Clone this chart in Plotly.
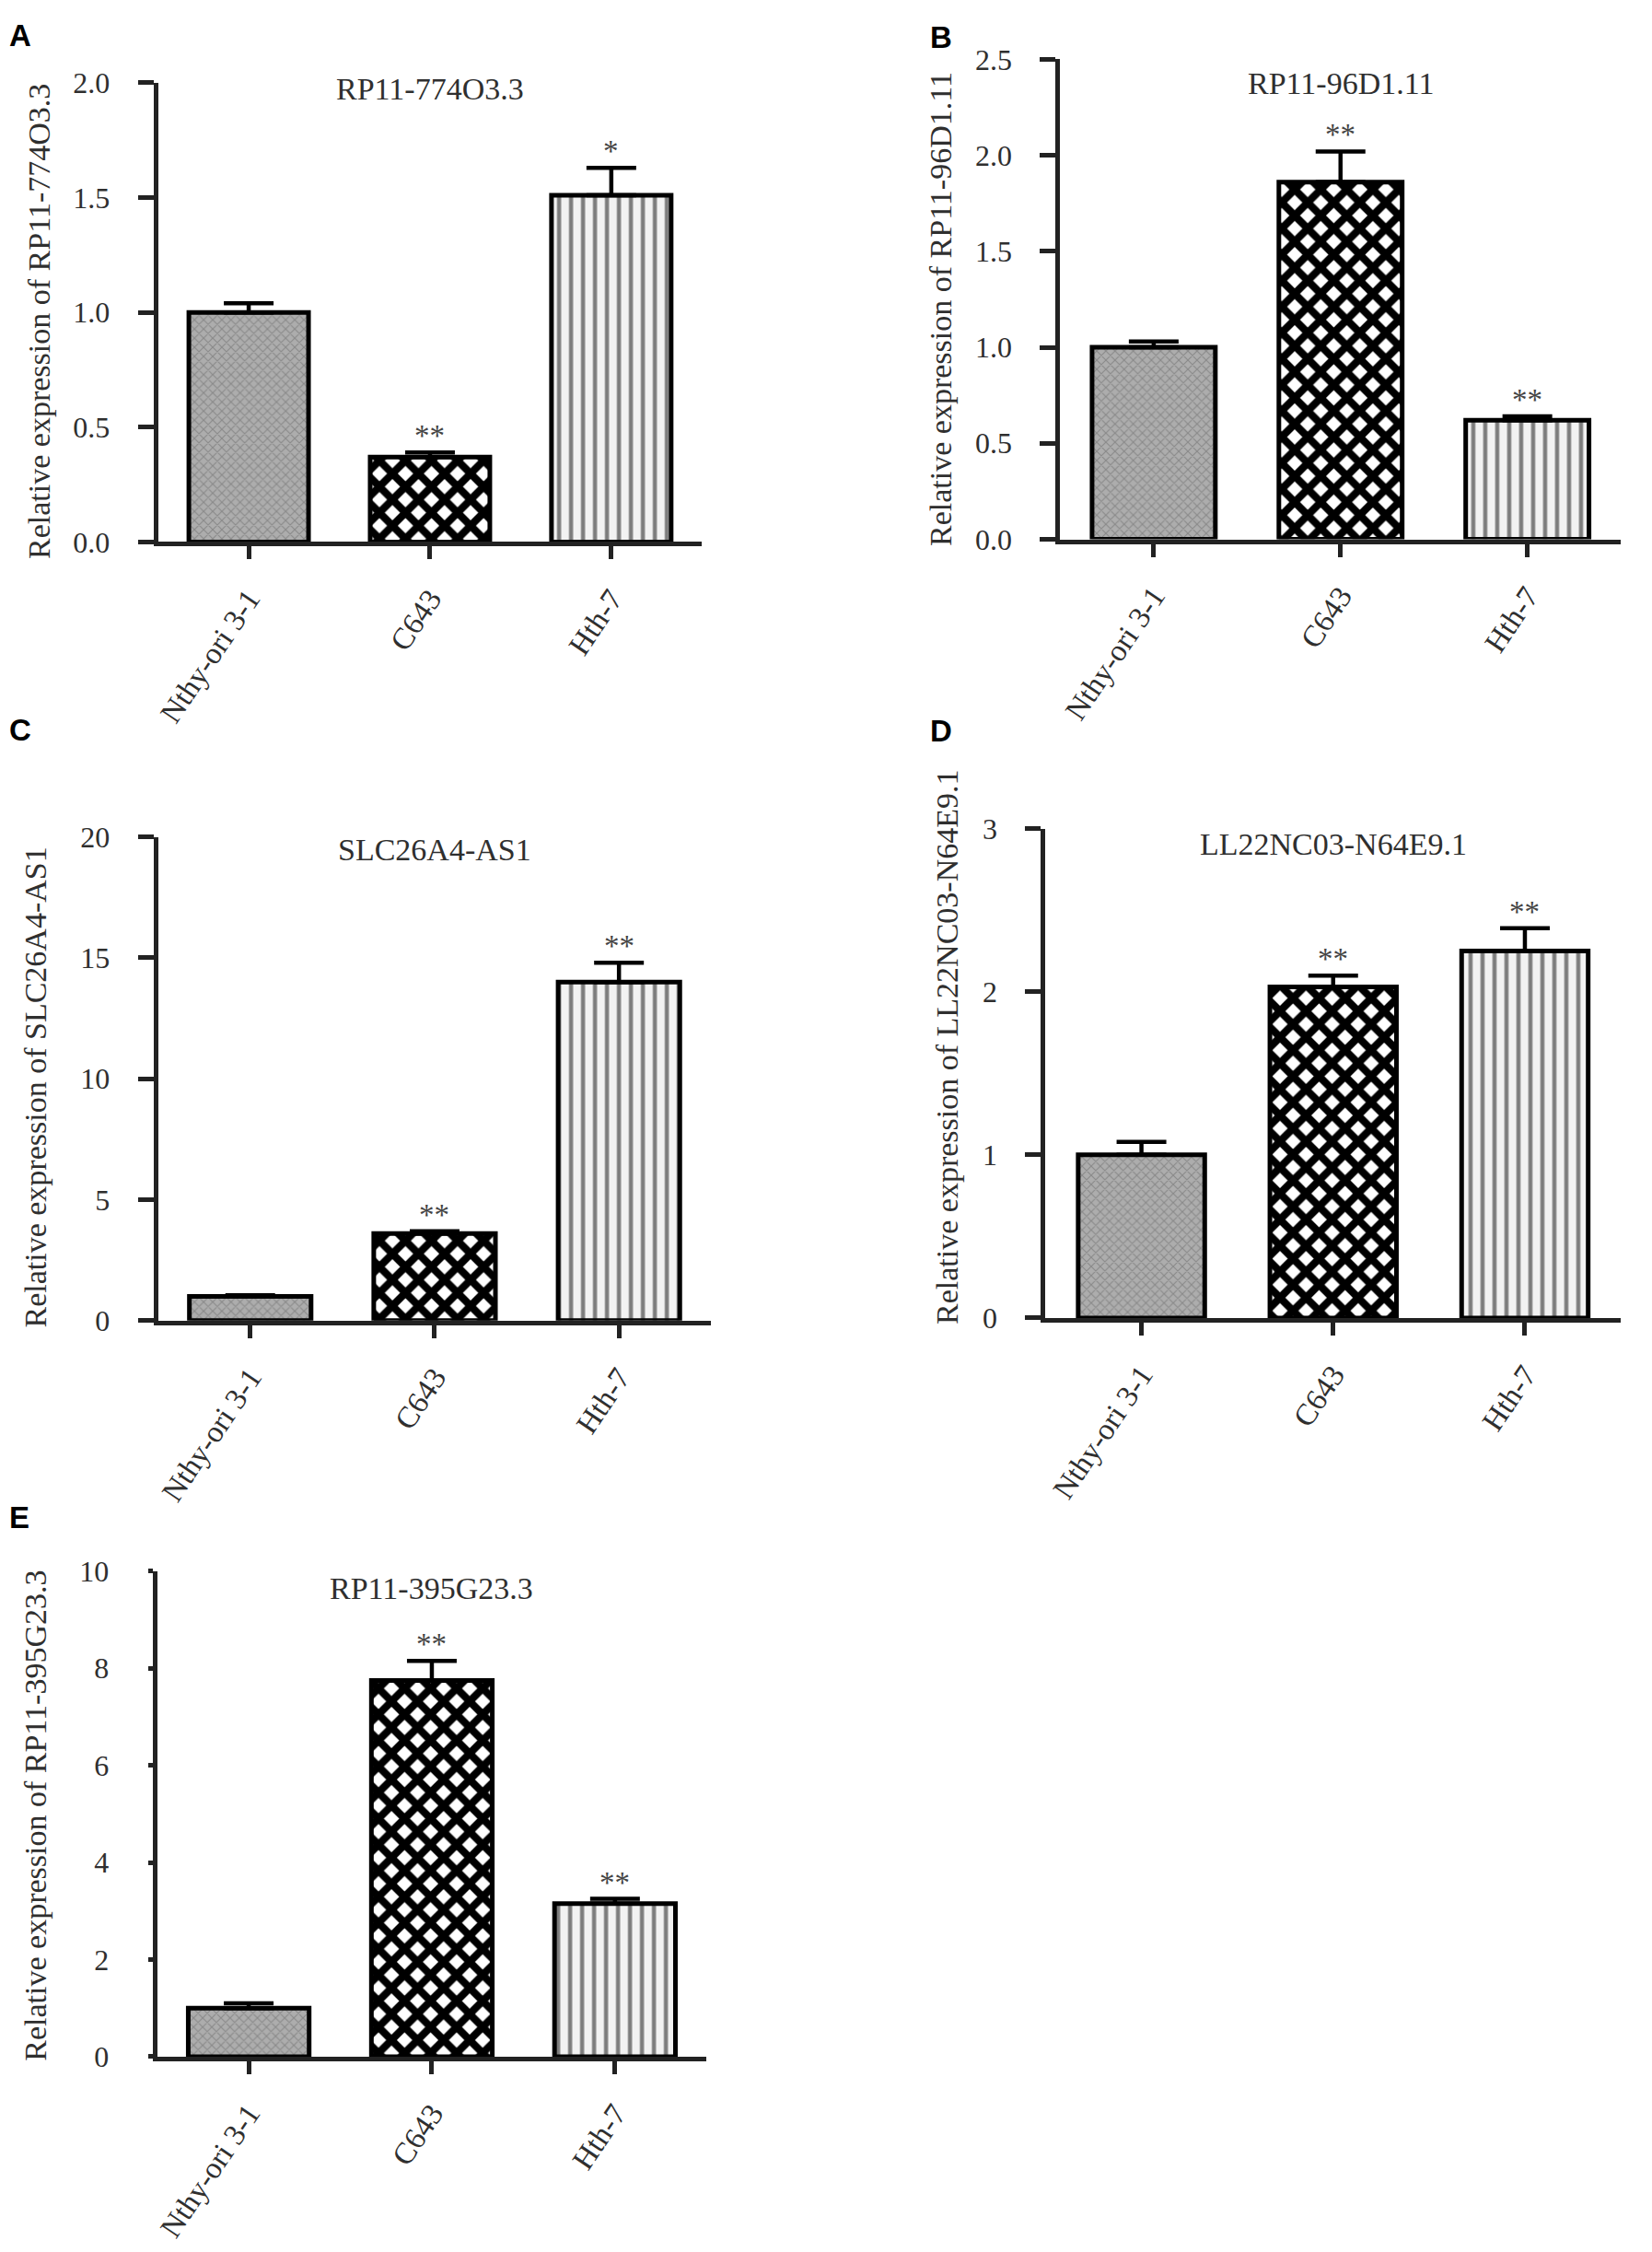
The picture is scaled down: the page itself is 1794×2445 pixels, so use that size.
import plotly.graph_objects as go

W, H = 1794, 2445

# --- data ---
cell_lines = ["Nthy-ori 3-1", "C643", "Hth-7"]
panel_letters = ["A", "B", "C", "D", "E"]
genes = ["RP11-774O3.3", "RP11-96D1.11", "SLC26A4-AS1", "LL22NC03-N64E9.1", "RP11-395G23.3"]

mean_a = [1.00, 0.37, 1.51]
err_a = [0.04, 0.02, 0.12]
stars_a = ["", "**", "*"]

mean_b = [1.00, 1.86, 0.62]
err_b = [0.03, 0.16, 0.02]
stars_b = ["", "**", "**"]

mean_c = [1.0, 3.6, 14.0]
err_c = [0.05, 0.1, 0.8]
stars_c = ["", "**", "**"]

mean_d = [1.00, 2.03, 2.25]
err_d = [0.08, 0.07, 0.14]
stars_d = ["", "**", "**"]

mean_e = [1.0, 7.75, 3.15]
err_e = [0.10, 0.40, 0.10]
stars_e = ["", "**", "**"]

y_ticks_a = [0, 0.5, 1.0, 1.5, 2.0]
y_ticks_b = [0, 0.5, 1.0, 1.5, 2.0, 2.5]
y_ticks_c = [0, 5, 10, 15, 20]
y_ticks_d = [0, 1, 2, 3]
y_ticks_e = [0, 2, 4, 6, 8, 10]

means = [mean_a, mean_b, mean_c, mean_d, mean_e]
errs = [err_a, err_b, err_c, err_d, err_e]
stars = [stars_a, stars_b, stars_c, stars_d, stars_e]
y_ticks = [y_ticks_a, y_ticks_b, y_ticks_c, y_ticks_d, y_ticks_e]
tick_fmt = [".1f", ".1f", "d", "d", "d"]

# --- panel placement in page pixels: left, right, top, bottom of plot area ---
boxes = [
    (168, 760, 73, 579),
    (1150, 1760, 47, 576),
    (168, 770, 904, 1437),
    (1134, 1760, 895, 1434),
    (167, 765, 1713, 2248),
]
ytitle_pos = [(38, 336), (1020, 322), (35, 1180), (1027, 1136), (35, 1982)]
gene_title_y = [80, 74, 918, 912, 1732]
letter_pos = [(4, 0), (1006, 2), (4, 765), (1006, 766), (4, 1633)]
ytick_len = [17, 17, 17, 17, 5]

SERIF = "Liberation Serif"
TXT = "#2f2f2f"
AX = "#222222"

pat_shape = ["x", "x", "|"]
pat_fg = ["#8a8a8a", "#000000", "#7c7c7c"]
pat_bg = ["#adadad", "#ffffff", "#f2f2f2"]
pat_size = [7, 20, 13]
pat_sol = [0.3, 0.65, 0.34]


def px_x(v):
    return v / W


def px_y(v):
    return 1 - v / H


fig = go.Figure()
annotations = []

for i in range(5):
    n = "" if i == 0 else str(i + 1)
    xa, ya = "x" + n, "y" + n
    left, right, top, bottom = boxes[i]

    fig.add_trace(go.Bar(
        x=cell_lines, y=means[i],
        xaxis=xa, yaxis=ya,
        marker=dict(
            color="white",
            line=dict(color="black", width=5),
            pattern=dict(shape=pat_shape, fgcolor=pat_fg, bgcolor=pat_bg,
                         size=pat_size, solidity=pat_sol, fillmode="replace"),
        ),
        error_y=dict(type="data", symmetric=False, array=errs[i],
                     arrayminus=[0, 0, 0], color="black", thickness=4.5, width=27),
        showlegend=False,
        hoverinfo="skip",
    ))

    fig.layout["xaxis" + n] = dict(
        domain=[px_x(left), px_x(right)], anchor=ya,
        range=[-0.5, 2.5], type="category",
        showline=True, linecolor=AX, linewidth=5,
        ticks="outside", ticklen=14, tickwidth=4.5, tickcolor=AX,
        tickangle=-56, ticklabelstandoff=10,
        showgrid=False, zeroline=False,
        tickfont=dict(family=SERIF, size=33, color=TXT),
        fixedrange=True,
    )
    fig.layout["yaxis" + n] = dict(
        domain=[px_y(bottom), px_y(top)], anchor=xa,
        range=[0, y_ticks[i][-1]],
        tickvals=y_ticks[i], tickformat=tick_fmt[i],
        showline=True, linecolor=AX, linewidth=5,
        ticks="outside", ticklen=ytick_len[i], tickwidth=4.5, tickcolor=AX,
        ticklabelstandoff=24 if ytick_len[i] > 10 else 36,
        showgrid=False, zeroline=False,
        tickfont=dict(family=SERIF, size=32, color=TXT),
        fixedrange=True,
    )

    # gene name above the bars
    annotations.append(dict(
        text=genes[i], xref="paper", yref="paper",
        x=px_x((left + right) / 2), y=px_y(gene_title_y[i]),
        xanchor="center", yanchor="middle", showarrow=False,
        font=dict(family=SERIF, size=34, color=TXT),
    ))
    # y axis title
    tx, ty = ytitle_pos[i]
    annotations.append(dict(
        text="Relative expression of " + genes[i], xref="paper", yref="paper",
        x=px_x(tx), y=px_y(ty), xanchor="center", yanchor="middle",
        textangle=-90, showarrow=False,
        font=dict(family=SERIF, size=34, color=TXT),
    ))
    # panel letter
    lx, ly = letter_pos[i]
    annotations.append(dict(
        text="<b>" + panel_letters[i] + "</b>", xref="paper", yref="paper",
        x=px_x(lx), y=px_y(ly), xanchor="left", yanchor="top", showarrow=False,
        font=dict(family="Liberation Sans", size=33, color="black"),
    ))
    # significance marks
    for c, m, e, s in zip(cell_lines, means[i], errs[i], stars[i]):
        if s:
            annotations.append(dict(
                text=s, xref=xa, yref=ya, x=c, y=m + e,
                xanchor="center", yanchor="middle", yshift=18, showarrow=False,
                font=dict(family=SERIF, size=33, color="#444444"),
            ))

fig.update_layout(
    width=W, height=H,
    margin=dict(l=0, r=0, t=0, b=0),
    paper_bgcolor="white", plot_bgcolor="white",
    bargap=0.34,
    annotations=annotations,
)

fig.write_html("out.html", config={"displayModeBar": False},
               post_script="document.body.style.margin='0';")
